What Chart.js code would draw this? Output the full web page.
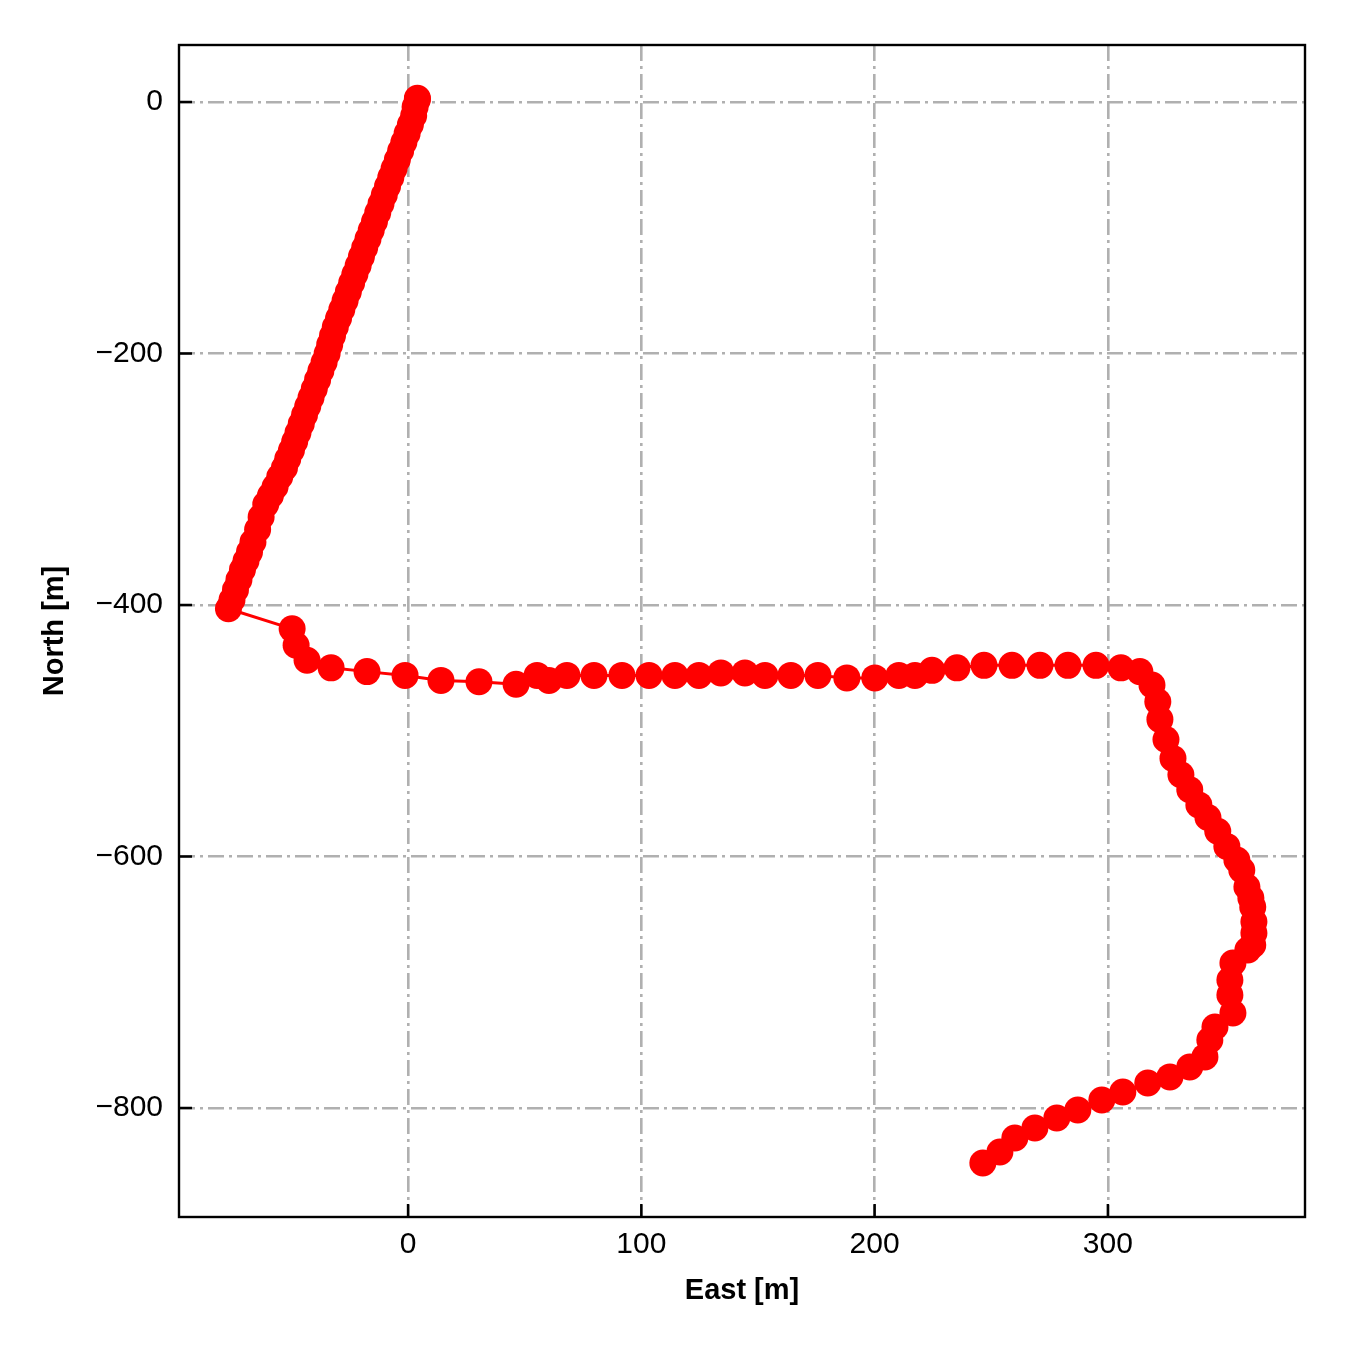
<!DOCTYPE html>
<html>
<head>
<meta charset="utf-8">
<script src="https://cdn.jsdelivr.net/npm/chart.js@4.4.1/dist/chart.umd.min.js"></script>
<style>
  body { margin: 0; background: #fff; }
  #chart { display: block; }
</style>
</head>
<body>
<canvas id="chart" width="1350" height="1350"></canvas>
<script>
// track positions (metres)
const east = [
  4, 4, 3, 2.4, 1, -0.4, -1.8, -3.2, -4.6, -6, -7.4, -8.8, -10.2, -11.6, -13, -14.4,
  -15.8, -17.2, -18.6, -20, -21.4, -22.8, -24.2, -25.6, -27, -28.4, -29.8, -31.2,
  -32.4, -33.6, -34.7, -36, -37.4, -38.8, -40.2, -41.6, -43, -44.4, -45.8, -47.2,
  -48.6, -50, -51.6, -53, -55, -57, -59, -61, -63, -64.5, -66.5, -68, -69.5, -71,
  -72.5, -74, -75.5, -77,
  -49.7, -48, -43.3, -33, -17.6, -1.3, 14.1, 30.4, 46.3, 55.3, 60.4, 68.1, 79.7,
  91.7, 103.3, 114.4, 124.7, 134.1, 144.4, 153, 164.1, 175.7, 188.1, 200.1, 210.4,
  217.3, 224.6, 235.3, 246.9, 258.9, 270.9, 282.9, 294.9, 305.6, 313.7,
  318.9, 321.4, 322.3, 324.9, 327.9, 331.3, 335.1, 339, 342.9, 347.1, 351, 355.3,
  357.4, 359.6, 361.3, 362.1, 362.6, 362.6, 362.1, 360, 353.6, 352.3, 352.3, 353.6,
  345.9, 343.7, 341.6, 335.1, 326.6, 317.1, 306.4, 297.4, 287.1, 278.1, 268.7,
  260.1, 253.7, 246.4
];
const north = [
  3, 2, -4, -11, -18, -25, -32, -39, -46, -53, -60, -67, -74, -81, -88, -95,
  -102, -109, -116, -123, -130, -137, -144, -151, -158, -165, -172, -179,
  -186, -193, -200, -207, -214, -221, -228, -235, -242, -249, -256, -263,
  -270, -277, -284, -291, -298, -306, -313, -320, -330, -340, -350, -358, -365, -372,
  -380, -388, -396, -403,
  -419, -432, -444, -450, -453, -456, -460, -461, -463, -456, -460, -456, -456,
  -456, -456, -456, -456, -454, -454, -456, -456, -456, -458, -458, -456,
  -456, -452, -450, -448, -448, -448, -448, -448, -450, -453,
  -463.6, -477, -491, -507, -522, -535, -547, -559, -569, -580, -592, -602.8,
  -610.7, -624.3, -633, -640.2, -652, -660.8, -670.4, -674.4, -684.7, -698.2, -710.1, -724.5,
  -735.6, -746, -759.4, -767.4, -775.3, -780.1, -787.3, -793.6, -801.6, -808, -815.9,
  -823.9, -835, -843.7
];
const xTicks = [0, 100, 200, 300];
const yTicks = [0, -200, -400, -600, -800];
const xRange = [-98.2, 384.5];
const yRange = [-886.7, 45.3];

const points = east.map((e, i) => ({ x: e, y: north[i] }));
const fmt = v => (v < 0 ? "\u2212" + Math.abs(v) : String(v));

// frame + inward tick marks like the original
const framePlugin = {
  id: "frame",
  afterDraw(chart) {
    const { ctx, chartArea: a, scales } = chart;
    ctx.save();
    ctx.strokeStyle = "#000";
    ctx.lineWidth = 2.5;
    ctx.beginPath();
    xTicks.forEach(v => {
      const px = scales.x.getPixelForValue(v);
      ctx.moveTo(px, a.bottom); ctx.lineTo(px, a.bottom - 13);
    });
    yTicks.forEach(v => {
      const py = scales.y.getPixelForValue(v);
      ctx.moveTo(a.left, py); ctx.lineTo(a.left + 13, py);
    });
    ctx.stroke();
    ctx.lineWidth = 2.4;
    ctx.strokeRect(a.left, a.top, a.right - a.left, a.bottom - a.top);
    ctx.restore();
  }
};

const gridStyle = {
  color: "#b0b0b0",
  lineWidth: 2.6,
  drawTicks: false
};

new Chart("chart", {
  type: "scatter",
  data: {
    datasets: [{
      data: points,
      showLine: true,
      borderColor: "#ff0000",
      backgroundColor: "#ff0000",
      borderWidth: 3,
      pointRadius: 13.5,
      pointHoverRadius: 13.5,
      pointBorderWidth: 0
    }]
  },
  plugins: [framePlugin],
  options: {
    responsive: false,
    animation: false,
    devicePixelRatio: 1,
    layout: { padding: { top: 45, right: 45, left: 0, bottom: 0 } },
    plugins: { legend: { display: false }, tooltip: { enabled: false } },
    scales: {
      x: {
        type: "linear",
        min: xRange[0],
        max: xRange[1],
        afterBuildTicks: s => { s.ticks = xTicks.map(v => ({ value: v })); },
        afterFit: s => { s.height = 133; },
        border: { display: false, dash: [16, 5, 3, 5] },
        grid: gridStyle,
        ticks: {
          color: "#000",
          padding: 10,
          maxRotation: 0,
          font: { family: "Liberation Sans, Arial", size: 30 },
          callback: v => fmt(v)
        },
        title: {
          display: true,
          text: "East [m]",
          color: "#000",
          padding: { top: 4, bottom: 42 },
          font: { family: "Liberation Sans, Arial", size: 29, weight: "bold" }
        }
      },
      y: {
        type: "linear",
        min: yRange[0],
        max: yRange[1],
        afterBuildTicks: s => { s.ticks = yTicks.map(v => ({ value: v })); },
        afterFit: s => { s.width = 179; },
        border: { display: false, dash: [16, 5, 3, 5] },
        grid: gridStyle,
        ticks: {
          color: "#000",
          padding: 16,
          font: { family: "Liberation Sans, Arial", size: 30 },
          callback: v => fmt(v)
        },
        title: {
          display: true,
          text: "North [m]",
          color: "#000",
          padding: { top: 38, bottom: 0 },
          font: { family: "Liberation Sans, Arial", size: 29, weight: "bold" }
        }
      }
    }
  }
});
</script>
</body>
</html>
